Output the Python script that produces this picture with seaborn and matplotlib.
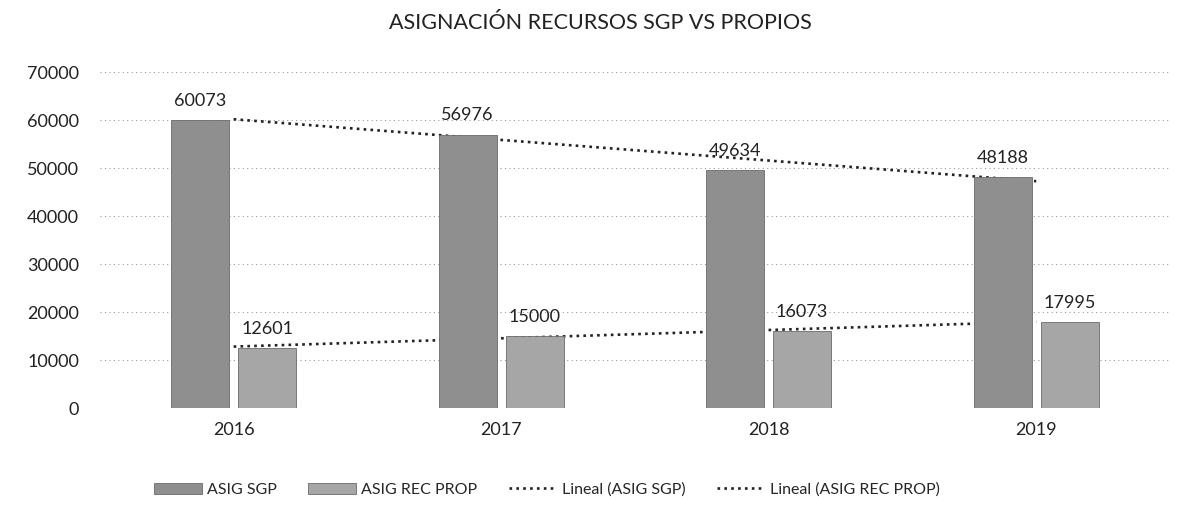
import numpy as np
import pandas as pd
import matplotlib
matplotlib.use("Agg")
import matplotlib.pyplot as plt
import seaborn as sns

YEARS = ["2016", "2017", "2018", "2019"]
ASIG_SGP = [60073, 56976, 49634, 48188]
ASIG_REC_PROP = [12601, 15000, 16073, 17995]
SERIES = ["ASIG SGP", "ASIG REC PROP"]
COLORS = ["#8f8f8f", "#a6a6a6"]


def run():
    sns.set_theme(style="white")
    plt.rcParams["font.family"] = ["Lato", "DejaVu Sans"]

    df = pd.DataFrame({
        "year": YEARS * 2,
        "value": ASIG_SGP + ASIG_REC_PROP,
        "serie": [SERIES[0]] * 4 + [SERIES[1]] * 4,
    })

    fig = plt.figure(figsize=(11.89, 5.22), dpi=100)
    ax = fig.add_axes([0.084, 0.218, 0.9, 0.644])

    sns.barplot(data=df, x="year", y="value", hue="serie", palette=COLORS,
                width=0.5, gap=0.13, ax=ax, zorder=3, edgecolor="#6a6a6a",
                linewidth=0.6, legend=False)

    # linear trend lines, behind the bars
    x = np.arange(len(YEARS))
    trend_handles = []
    for vals in (ASIG_SGP, ASIG_REC_PROP):
        k, b = np.polyfit(x, vals, 1)
        h, = ax.plot(x, k * x + b, linestyle=(0, (1, 1.6)), color="#222222",
                     linewidth=1.9, zorder=2)
        trend_handles.append(h)

    for cont in ax.containers:
        ax.bar_label(cont, fmt="%d", padding=8, fontsize=13, color="#222222")

    ax.set_ylim(0, 70000)
    ax.set_xlim(-0.5, 3.5)
    ax.set_yticks(range(0, 70001, 10000))
    ax.yaxis.grid(True, linestyle=(0, (1, 3)), color="#9a9a9a", linewidth=0.8)
    ax.set_axisbelow(True)
    sns.despine(ax=ax, left=True, bottom=True)
    ax.tick_params(axis="both", length=0, labelsize=13, colors="#222222")
    ax.tick_params(axis="y", pad=15)
    ax.tick_params(axis="x", pad=10)
    ax.set_xlabel("")
    ax.set_ylabel("")

    fig.suptitle("ASIGNACIÓN RECURSOS SGP VS PROPIOS", x=0.505, y=0.975,
                 fontsize=15.5, color="#222222")

    bar_handles = [plt.Rectangle((0, 0), 1, 1, facecolor=c, edgecolor="#6a6a6a",
                                 linewidth=0.6) for c in COLORS]
    labels = SERIES + ["Lineal (ASIG SGP)", "Lineal (ASIG REC PROP)"]
    fig.legend(bar_handles + trend_handles, labels, loc="center",
               bbox_to_anchor=(0.46, 0.062), ncol=4, frameon=False,
               fontsize=11.5, handlelength=3.0, columnspacing=2.0,
               handletextpad=0.3)

    fig.savefig("out.png", dpi=100)
    plt.close(fig)


if __name__ == "__main__":
    run()
